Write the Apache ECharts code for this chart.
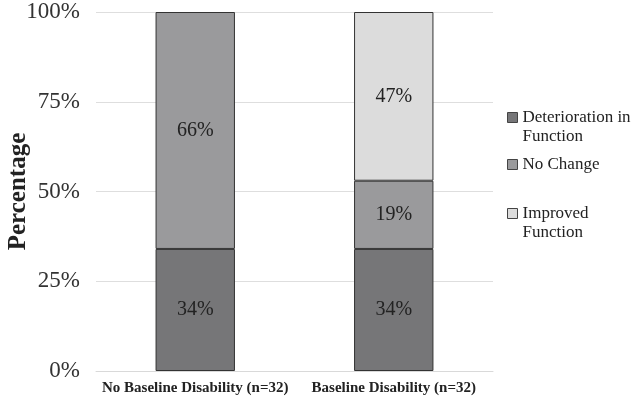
<!DOCTYPE html>
<html><head><meta charset="utf-8">
<script src="https://cdn.jsdelivr.net/npm/echarts@6/dist/echarts.min.js"></script>
<style>html,body{margin:0;padding:0;background:#fff}#c{width:636px;height:401px}</style>
</head><body><div id="c"></div>
<script>
const categories = ['No Baseline Disability (n=32)', 'Baseline Disability (n=32)'];
const deterioration = [34, 34];
const noChange = [66, 19];
const improved = [0, 47];
const yTicks = ['0%', '25%', '50%', '75%', '100%'];
const seriesNames = ['Deterioration in\nFunction', 'No Change', 'Improved\nFunction'];

const font = 'Liberation Serif, Times New Roman, serif';
const colors = ['#767678', '#9a9a9c', '#dcdcdc'];
const chart = echarts.init(document.getElementById('c'));
function mk(name, data, i) {
  return {
    name: name, type: 'bar', stack: 's', data: data.map(v => v === 0 ? '-' : v), barWidth: '40%',
    itemStyle: { color: colors[i], borderColor: '#333', borderWidth: 1 },
    label: { show: true, position: 'inside', fontFamily: font, fontSize: 20, color: '#222',
      formatter: p => p.value + '%' }
  };
}
function lg(i, top) {
  return {
    orient: 'vertical', left: 502, top: top, itemWidth: 10, itemHeight: 10, itemGap: 6, icon: 'rect',
    textStyle: { fontFamily: font, fontSize: 17, color: '#222', lineHeight: 19 },
    formatter: n => n.indexOf('\n') >= 0 ? ' \n' + n : n,
    data: [{ name: seriesNames[i], itemStyle: { color: colors[i], borderColor: '#444', borderWidth: 1 } }]
  };
}
chart.setOption({
  animation: false,
  grid: { left: 96, right: 143, top: 12, bottom: 30, containLabel: false, outerBoundsMode: 'none' },
  legend: [lg(0, 84), lg(1, 150), lg(2, 180)],
  xAxis: {
    type: 'category', data: categories,
    axisLine: { show: true, lineStyle: { color: '#d9d9d9' } }, axisTick: { show: false },
    axisLabel: { fontFamily: font, fontSize: 15, fontWeight: 'bold', color: '#222', margin: 10, interval: 0 }
  },
  yAxis: {
    type: 'value', min: 0, max: 100, interval: 25,
    name: 'Percentage', nameLocation: 'middle', nameGap: 65, nameRotate: 90, nameMoveOverlap: false,
    nameTextStyle: { fontFamily: font, fontSize: 25, fontWeight: 'bold', color: '#222' },
    axisLine: { show: false }, axisTick: { show: false },
    splitLine: { lineStyle: { color: '#dedede' } },
    axisLabel: { fontFamily: font, fontSize: 23, color: '#333', margin: 16,
      formatter: v => yTicks[v / 25] }
  },
  series: [mk(seriesNames[0], deterioration, 0), mk(seriesNames[1], noChange, 1), mk(seriesNames[2], improved, 2)]
});
</script></body></html>
